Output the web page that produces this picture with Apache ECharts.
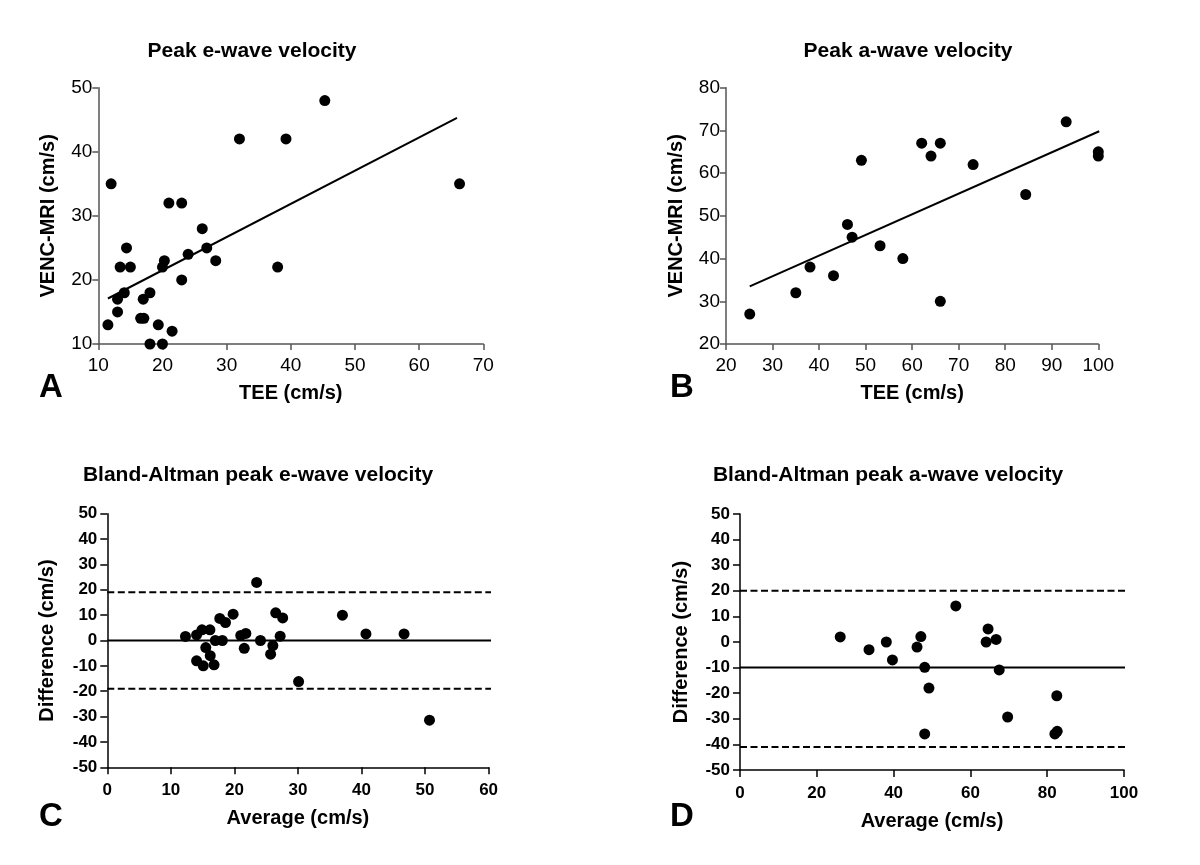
<!DOCTYPE html>
<html>
<head>
<meta charset="utf-8">
<script src="https://cdn.jsdelivr.net/npm/echarts@6/dist/echarts.min.js"></script>
<style>
html,body{margin:0;padding:0;background:#fff;}
#chart{width:1200px;height:865px;}
</style>
</head>
<body>
<div id="chart"></div>
<script>
// ---- Data ----
const titles = ['Peak e-wave velocity', 'Peak a-wave velocity', 'Bland-Altman peak e-wave velocity', 'Bland-Altman peak a-wave velocity'];
const panelLetters = ['A', 'B', 'C', 'D'];
const xNames = ['TEE (cm/s)', 'TEE (cm/s)', 'Average (cm/s)', 'Average (cm/s)'];
const yNames = ['VENC-MRI (cm/s)', 'VENC-MRI (cm/s)', 'Difference (cm/s)', 'Difference (cm/s)'];

// Panel A: peak e-wave
const eTEE = [11.5, 12.0, 13.0, 13.0, 13.4, 14.05, 14.4, 15.0, 16.6, 17.1, 17.0, 18.05, 18.05, 19.35, 20.0, 20.0, 20.3, 21.0, 21.5, 23.0, 23.0, 24.0, 26.2, 26.9, 28.3, 32.0, 37.95, 39.25, 45.3, 66.3];
const eMRI = [13, 35, 15, 17, 22, 18, 25, 22, 14, 14, 17, 18, 10, 13, 10, 22, 23, 32, 12, 32, 20, 24, 28, 25, 23, 42, 22, 42, 48, 35];
const eFitX = [11.5, 65.9];
const eFitY = [17.1, 45.3];

// Panel B: peak a-wave
const aTEE = [25.1, 35.0, 38.05, 43.1, 46.1, 47.1, 49.1, 53.1, 58.0, 62.05, 64.05, 66.05, 66.05, 73.1, 84.4, 93.1, 100.0, 100.0];
const aMRI = [27, 32, 38, 36, 48, 45, 63, 43, 40, 67, 64, 67, 30, 62, 55, 72, 65, 64];
const aFitX = [25.1, 100.2];
const aFitY = [33.5, 69.8];

// Panel C: Bland-Altman e-wave
const baEAvg = [12.3, 14.05, 14.05, 14.9, 15.1, 15.5, 16.15, 16.2, 16.8, 17.0, 17.7, 18.1, 18.6, 19.8, 21.0, 21.8, 21.55, 23.5, 24.1, 25.7, 26.05, 26.5, 27.2, 27.6, 30.1, 37.0, 40.7, 46.7, 50.7];
const baEDiff = [1.6, 2.2, -8.0, 4.2, -10.0, -2.8, 4.2, -6.0, -9.6, 0, 8.7, 0, 7.1, 10.4, 2.0, 2.8, -3.1, 22.9, 0, -5.4, -2.0, 10.9, 1.7, 8.9, -16.2, 10.0, 2.6, 2.6, -31.4];
const baELineX = [0, 61.8];
const baEMean = 0, baEUpper = 19, baELower = -19;

// Panel D: Bland-Altman a-wave
const baAAvg = [26.1, 33.6, 38.1, 39.7, 46.1, 47.1, 48.1, 48.1, 49.2, 56.2, 64.1, 64.6, 66.7, 67.5, 69.7, 82.5, 82.0, 82.6];
const baADiff = [2.0, -3.0, 0, -7.0, -2.0, 2.1, -9.9, -35.9, -18.0, 14.1, 0, 5.1, 1.0, -10.9, -29.3, -21.0, -35.9, -34.9];
const baALineX = [0, 100.5];
const baAMean = -10, baAUpper = 20, baALower = -41;

// Axis ranges
const xRanges = [[10, 70, 10], [20, 100, 10], [0, 60, 10], [0, 100, 20]];
const yRanges = [[10, 50, 10], [20, 80, 10], [-50, 50, 10], [-50, 50, 10]];

// ---- Layout ----
const FONT = '"Liberation Sans", Arial, sans-serif';
const grids = [
  {left: 98.3, top: 87.7, width: 385, height: 256.3},
  {left: 726, top: 87.7, width: 372.3, height: 256.3},
  {left: 107.3, top: 513.7, width: 381.3, height: 253.6},
  {left: 740, top: 514, width: 384, height: 256}
];
const titlePos = [[252, 41], [908, 41], [258, 465], [888, 465]];
const letterPos = [[51, 371], [682, 371], [51, 800], [682, 800]];
const yNameGap = [40, 40, 50, 49];

function pairs(xs, ys) { return xs.map((x, i) => [x, ys[i]]); }
function hline(xs, v) { return xs.map(x => [x, v]); }

const chart = echarts.init(document.getElementById('chart'), null, {renderer: 'canvas'});

const title = [];
titles.forEach((t, i) => {
  title.push({text: t, left: titlePos[i][0], top: titlePos[i][1], textAlign: 'center', padding: 0,
    textStyle: {fontFamily: FONT, fontSize: 21, fontWeight: 'bold', color: '#000'}});
  title.push({text: panelLetters[i], left: letterPos[i][0], top: letterPos[i][1], textAlign: 'center', padding: 0,
    textStyle: {fontFamily: FONT, fontSize: 33, fontWeight: 'bold', color: '#000'}});
});

const xAxis = [], yAxis = [];
for (let i = 0; i < 4; i++) {
  const ba = i >= 2;
  const axColor = ba ? '#000' : '#555';
  const lbl = {fontFamily: FONT, fontSize: ba ? 17 : 19, fontWeight: ba ? 'bold' : 'normal', color: '#000'};
  xAxis.push({
    type: 'value', gridIndex: i, min: xRanges[i][0], max: xRanges[i][1], interval: xRanges[i][2],
    name: xNames[i], nameLocation: 'middle', nameGap: ba ? 41 : 39,
    nameTextStyle: {fontFamily: FONT, fontSize: 20, fontWeight: 'bold', color: '#000'},
    axisLine: {onZero: false, lineStyle: {color: axColor, width: 1.5}},
    axisTick: {length: ba ? 7 : 6, lineStyle: {color: axColor, width: 1.5}},
    axisLabel: {margin: ba ? 15 : 12, ...lbl},
    splitLine: {show: false}
  });
  yAxis.push({
    type: 'value', gridIndex: i, min: yRanges[i][0], max: yRanges[i][1], interval: yRanges[i][2],
    name: yNames[i], nameLocation: 'middle', nameGap: yNameGap[i], nameRotate: 90,
    nameTextStyle: {fontFamily: FONT, fontSize: 20, fontWeight: 'bold', color: '#000'},
    axisLine: {show: true, onZero: false, lineStyle: {color: axColor, width: 1.5}},
    axisTick: {show: true, length: ba ? 7 : 6, lineStyle: {color: axColor, width: 1.5}},
    axisLabel: {margin: ba ? 10 : 6, ...lbl},
    splitLine: {show: false}
  });
}

const dot = (i, data) => ({type: 'scatter', xAxisIndex: i, yAxisIndex: i, data: data, symbol: 'circle', symbolSize: 11,
  itemStyle: {color: '#000', opacity: 1}, z: 5, silent: true});
const line = (i, data, dashed) => ({type: 'line', xAxisIndex: i, yAxisIndex: i, data: data, symbol: 'none', clip: false,
  lineStyle: {color: '#000', width: 2, type: dashed ? [7, 3.5] : 'solid'}, z: 3, silent: true, animation: false});

const series = [
  dot(0, pairs(eTEE, eMRI)),
  line(0, pairs(eFitX, eFitY), false),
  dot(1, pairs(aTEE, aMRI)),
  line(1, pairs(aFitX, aFitY), false),
  dot(2, pairs(baEAvg, baEDiff)),
  line(2, hline(baELineX, baEMean), false),
  line(2, hline(baELineX, baEUpper), true),
  line(2, hline(baELineX, baELower), true),
  dot(3, pairs(baAAvg, baADiff)),
  line(3, hline(baALineX, baAMean), false),
  line(3, hline(baALineX, baAUpper), true),
  line(3, hline(baALineX, baALower), true)
];

chart.setOption({
  backgroundColor: '#fff',
  animation: false,
  title: title,
  grid: grids,
  xAxis: xAxis,
  yAxis: yAxis,
  series: series
});
</script>
</body>
</html>
